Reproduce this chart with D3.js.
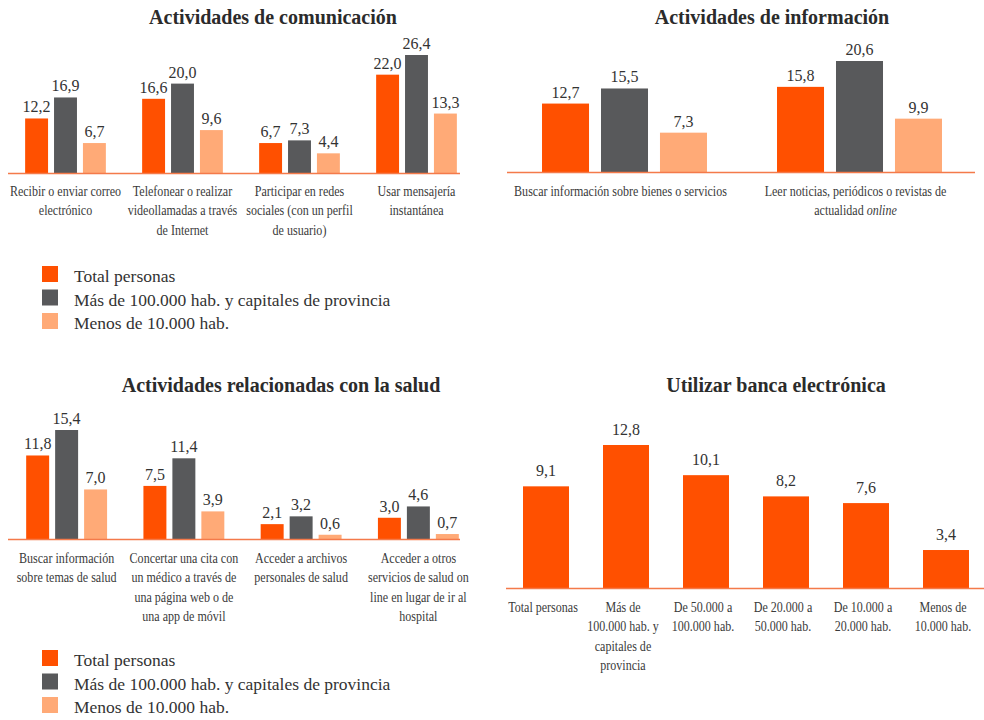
<!DOCTYPE html>
<html lang="es">
<head>
<meta charset="UTF-8" />
<title>Actividades por Internet</title>
<script src="https://d3js.org/d3.v7.min.js"></script>
<style>
  body { margin: 0; background: #fff; font-family: "Liberation Serif", "DejaVu Serif", serif; }
  .title { font-weight: bold; font-size: 20px; fill: #2b2b2b; text-anchor: middle; }
  .value { font-size: 16px; fill: #333; text-anchor: middle; }
  .cat { font-size: 14px; fill: #3a3a3a; text-anchor: middle; }
  .legend text { font-size: 17.5px; fill: #333; }
</style>
</head>
<body>
<svg id="chart" width="984" height="720"></svg>
<script>
// series
const series = ["Total personas", "Más de 100.000 hab. y capitales de provincia", "Menos de 10.000 hab."];
const colors = ["#ff5000", "#58595b", "#ffaa77"];

// Actividades de comunicación
const comLabels = [
  ["Recibir o enviar correo", "electrónico"],
  ["Telefonear o realizar", "videollamadas a través", "de Internet"],
  ["Participar en redes", "sociales (con un perfil", "de usuario)"],
  ["Usar mensajería", "instantánea"]
];
const comTotal = [12.2, 16.6, 6.7, 22.0];
const comGrandes = [16.9, 20.0, 7.3, 26.4];
const comPequenos = [6.7, 9.6, 4.4, 13.3];

// Actividades de información
const infLabels = [
  ["Buscar información sobre bienes o servicios"],
  ["Leer noticias, periódicos o revistas de", "actualidad *online*"]
];
const infTotal = [12.7, 15.8];
const infGrandes = [15.5, 20.6];
const infPequenos = [7.3, 9.9];

// Actividades relacionadas con la salud
const salLabels = [
  ["Buscar información", "sobre temas de salud"],
  ["Concertar una cita con", "un médico a través de", "una página web o de", "una app de móvil"],
  ["Acceder a archivos", "personales de salud"],
  ["Acceder a otros", "servicios de salud on", "line en lugar de ir al", "hospital"]
];
const salTotal = [11.8, 7.5, 2.1, 3.0];
const salGrandes = [15.4, 11.4, 3.2, 4.6];
const salPequenos = [7.0, 3.9, 0.6, 0.7];

// Utilizar banca electrónica
const bancaLabels = [
  ["Total personas"],
  ["Más de", "100.000 hab. y", "capitales de", "provincia"],
  ["De 50.000 a", "100.000 hab."],
  ["De 20.000 a", "50.000 hab."],
  ["De 10.000 a", "20.000 hab."],
  ["Menos de", "10.000 hab."]
];
const bancaValues = [9.1, 12.8, 10.1, 8.2, 7.6, 3.4];

const svg = d3.select("#chart");
const fmt = v => d3.format(".1f")(v).replace(".", ",");

function catLabel(g, x, y, lines) {
  const t = g.append("g").attr("transform", `translate(${x},${y}) scale(0.86,1)`)
    .append("text").attr("class", "cat");
  lines.forEach((line, i) => {
    const ts = t.append("tspan").attr("x", 0).attr("dy", i === 0 ? 0 : 19.5);
    const parts = line.split("*");
    parts.forEach((p, j) => {
      if (!p) return;
      ts.append("tspan").attr("font-style", j % 2 ? "italic" : null).text(p);
    });
  });
}

function groupedPanel(opt) {
  const g = svg.append("g");
  const values = [opt.total, opt.grandes, opt.pequenos];
  const y = d3.scaleLinear().domain([0, opt.vmax]).range([opt.base, opt.top]);
  const x0 = d3.scaleBand().domain(d3.range(opt.labels.length))
    .range(opt.xr).paddingInner(opt.pad).paddingOuter(opt.pad / 2);
  const x1 = d3.scaleBand().domain(d3.range(3)).range([0, x0.bandwidth()]).paddingInner(opt.ipad);

  g.append("text").attr("class", "title").attr("x", opt.tx).attr("y", opt.ty).text(opt.title);

  const grp = g.selectAll("g.grp").data(opt.labels).join("g")
    .attr("transform", (d, i) => `translate(${x0(i)},0)`);
  grp.each(function (d, i) {
    const gg = d3.select(this);
    d3.range(3).forEach(s => {
      const v = values[s][i];
      gg.append("rect").attr("x", x1(s)).attr("width", x1.bandwidth())
        .attr("y", y(v)).attr("height", y(0) - y(v)).attr("fill", colors[s]);
      gg.append("text").attr("class", "value").attr("x", x1(s) + x1.bandwidth() / 2)
        .attr("y", y(v) - 6).text(fmt(v));
    });
  });

  g.append("line").attr("x1", opt.ax[0]).attr("x2", opt.ax[1])
    .attr("y1", opt.base + 0.5).attr("y2", opt.base + 0.5)
    .attr("stroke", "#f47a4a").attr("stroke-width", 1.5);

  opt.labels.forEach((lines, i) => catLabel(g, x0(i) + x0.bandwidth() / 2 + (opt.lshift || 0), opt.ly, lines));
}

function legend(x, y) {
  const g = svg.append("g").attr("class", "legend").attr("transform", `translate(${x},${y})`);
  series.forEach((s, i) => {
    g.append("rect").attr("x", 0).attr("y", i * 23.5).attr("width", 16).attr("height", 16).attr("fill", colors[i]);
    g.append("text").attr("x", 32).attr("y", i * 23.5 + 16).text(s);
  });
}

groupedPanel({
  title: "Actividades de comunicación", tx: 273, ty: 24,
  labels: comLabels, total: comTotal, grandes: comGrandes, pequenos: comPequenos,
  vmax: 26.4, base: 173, top: 55, xr: [7, 475], pad: 0.31, ipad: 0.207,
  ax: [8, 460], ly: 196
});
legend(42, 266);

groupedPanel({
  title: "Actividades de información", tx: 772, ty: 24,
  labels: infLabels, total: infTotal, grandes: infGrandes, pequenos: infPequenos,
  vmax: 20.6, base: 172, top: 61, xr: [507, 977], pad: 0.298, ipad: 0.203,
  ax: [507, 975], ly: 196, lshift: -4
});

groupedPanel({
  title: "Actividades relacionadas con la salud", tx: 281, ty: 392,
  labels: salLabels, total: salTotal, grandes: salGrandes, pequenos: salPequenos,
  vmax: 15.4, base: 539, top: 430, xr: [8, 477], pad: 0.31, ipad: 0.207,
  ax: [8, 460], ly: 563
});
legend(42, 650);

// Utilizar banca electrónica
(function () {
  const g = svg.append("g");
  const y = d3.scaleLinear().domain([0, 12.8]).range([588, 445]);
  const x = d3.scaleBand().domain(d3.range(bancaValues.length)).range([506, 986])
    .paddingInner(0.425).paddingOuter(0.2125);
  g.append("text").attr("class", "title").attr("x", 776).attr("y", 392).text("Utilizar banca electrónica");
  g.selectAll("rect").data(bancaValues).join("rect")
    .attr("x", (d, i) => x(i)).attr("width", x.bandwidth())
    .attr("y", d => y(d)).attr("height", d => y(0) - y(d)).attr("fill", colors[0]);
  g.selectAll("text.value").data(bancaValues).join("text").attr("class", "value")
    .attr("x", (d, i) => x(i) + x.bandwidth() / 2).attr("y", d => y(d) - 10).text(fmt);
  g.append("line").attr("x1", 506).attr("x2", 984).attr("y1", 588.5).attr("y2", 588.5)
    .attr("stroke", "#f47a4a").attr("stroke-width", 1.5);
  bancaLabels.forEach((lines, i) => catLabel(g, x(i) + x.bandwidth() / 2 - 3, 612, lines));
})();
</script>
</body>
</html>
